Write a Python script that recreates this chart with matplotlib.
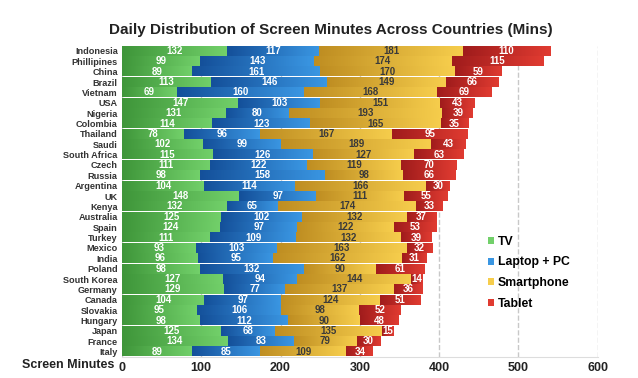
import matplotlib.pyplot as plt
from matplotlib.colors import LinearSegmentedColormap
import numpy as np

countries = ["Indonesia", "Phillipines", "China", "Brazil", "Vietnam", "USA", "Nigeria",
             "Colombia", "Thailand", "Saudi", "South Africa", "Czech", "Russia", "Argentina",
             "UK", "Kenya", "Australia", "Spain", "Turkey", "Mexico", "India", "Poland",
             "South Korea", "Germany", "Canada", "Slovakia", "Hungary", "Japan", "France", "Italy"]
tv = [132, 99, 89, 113, 69, 147, 131, 114, 78, 102, 115, 111, 98, 104, 148, 132,
      125, 124, 111, 93, 96, 98, 127, 129, 104, 95, 98, 125, 134, 89]
laptop = [117, 143, 161, 146, 160, 103, 80, 123, 96, 99, 126, 122, 158, 114, 97, 65,
          102, 97, 109, 103, 95, 132, 94, 77, 97, 106, 112, 68, 83, 85]
smartphone = [181, 174, 170, 149, 168, 151, 193, 165, 167, 189, 127, 119, 98, 166, 111, 174,
              132, 122, 132, 163, 162, 90, 144, 137, 124, 98, 90, 135, 79, 109]
tablet = [110, 115, 59, 66, 69, 43, 39, 35, 95, 43, 63, 70, 66, 30, 55, 33,
          37, 53, 39, 32, 31, 61, 14, 36, 51, 52, 48, 15, 30, 34]

# name, values, dark end, light end, label colour
series = [("TV", tv, "#3f963a", "#72d06a", "white"),
          ("Laptop + PC", laptop, "#14509a", "#3a96e2", "white"),
          ("Smartphone", smartphone, "#bf8e22", "#f6cd4c", "#3a3a3a"),
          ("Tablet", tablet, "#a01c1c", "#e03b31", "white")]

plt.rcParams['font.family'] = ['Liberation Sans', 'DejaVu Sans']

fig = plt.figure(figsize=(6.38, 3.78), dpi=100)
ax = fig.add_axes([0.191, 0.056, 0.746, 0.823])

y = np.arange(len(countries))
h = 0.93
grad = np.linspace(0, 1, 64).reshape(1, -1)
left = np.zeros(len(countries))
for name, vals, dark, light, tcolor in series:
    vals = np.array(vals)
    cmap = LinearSegmentedColormap.from_list(name, [dark, light])
    ax.barh(y, vals, left=left, height=h, color=light, label=name, zorder=2)
    for yi, l, v in zip(y, left, vals):
        ax.imshow(grad, extent=[l, l + v, yi + h / 2, yi - h / 2], cmap=cmap,
                  aspect="auto", zorder=3, interpolation="bilinear")
        ax.text(l + v / 2, yi, str(v), ha="center", va="center", fontsize=7,
                fontweight="bold", color=tcolor, zorder=4)
    left = left + vals

ax.set_xlim(0, 600)
ax.set_ylim(len(countries) - 0.5, -0.5)
ax.set_yticks(y)
ax.set_yticklabels(countries, fontsize=6.6, fontweight="bold", color="#333333")
ax.set_xticks([0, 100, 200, 300, 400, 500, 600])
ax.set_xticklabels(["0", "100", "200", "300", "400", "500", "600"], fontsize=9,
                   fontweight="bold", color="#222222")
ax.tick_params(length=0, pad=3)
ax.tick_params(axis="x", pad=4)
ax.grid(axis="x", linestyle="--", color="#c8c8c8", linewidth=1, zorder=0)
for s in ["top", "right", "left"]:
    ax.spines[s].set_visible(False)
ax.spines["bottom"].set_color("#dddddd")

fig.text(0.035, 0.027, "Screen Minutes", fontsize=9, fontweight="bold", color="#222222")
fig.suptitle("Daily Distribution of Screen Minutes Across Countries (Mins)", x=0.518, y=0.94,
             fontsize=11, fontweight="bold", color="#222222")

ax.legend(loc="upper left", bbox_to_anchor=(0.748, 0.405), bbox_transform=fig.transFigure,
          frameon=False, prop={"weight": "bold", "size": 8.8}, handlelength=0.5,
          handleheight=0.5, handletextpad=0.3, labelspacing=0.7)

fig.savefig("out.png", dpi=100)
